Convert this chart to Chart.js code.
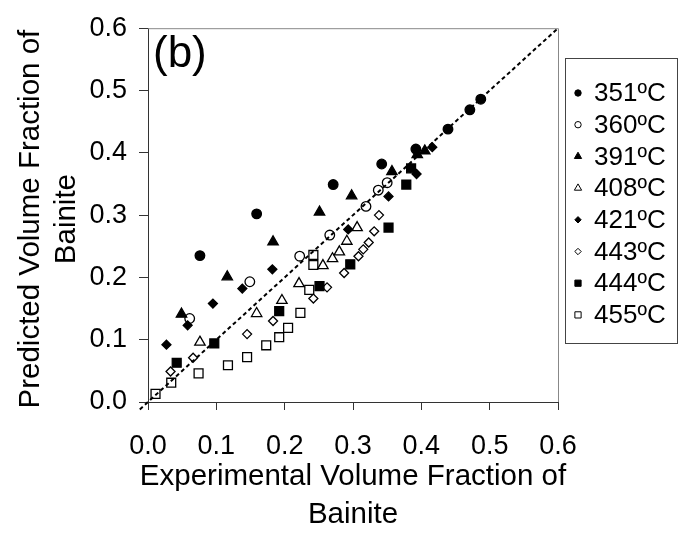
<!DOCTYPE html>
<html>
<head>
<meta charset="utf-8">
<script src="https://cdn.jsdelivr.net/npm/chart.js@4/dist/chart.umd.min.js"></script>
<style>
  html, body { margin: 0; padding: 0; background: #fff; }
  #wrap { width: 690px; height: 534px; }
</style>
</head>
<body>
<div id="wrap"><canvas id="myChart" width="690" height="534"></canvas></div>
<script>
// series: temperature labels
var labels = ['351ºC', '360ºC', '391ºC', '408ºC', '421ºC', '443ºC', '444ºC', '455ºC'];

// experimental (x) and predicted (y) volume fraction per temperature
var x351 = [0.076, 0.159, 0.271, 0.342, 0.392, 0.439, 0.471, 0.487];
var y351 = [0.235, 0.302, 0.349, 0.382, 0.406, 0.438, 0.469, 0.486];

var x360 = [0.061, 0.149, 0.222, 0.266, 0.319, 0.337, 0.350];
var y360 = [0.134, 0.193, 0.234, 0.268, 0.314, 0.340, 0.352];

var x391 = [0.049, 0.116, 0.183, 0.251, 0.298, 0.357, 0.394, 0.405];
var y391 = [0.141, 0.201, 0.257, 0.305, 0.331, 0.370, 0.397, 0.403];

var x408 = [0.076, 0.159, 0.196, 0.221, 0.256, 0.270, 0.280, 0.291, 0.306];
var y408 = [0.096, 0.142, 0.163, 0.190, 0.219, 0.230, 0.241, 0.258, 0.280];

var x421 = [0.027, 0.058, 0.095, 0.138, 0.182, 0.293, 0.352, 0.384, 0.393, 0.416];
var y421 = [0.092, 0.123, 0.158, 0.182, 0.213, 0.277, 0.330, 0.376, 0.366, 0.409];

var x443 = [0.033, 0.066, 0.145, 0.183, 0.242, 0.262, 0.287, 0.308, 0.315, 0.323, 0.331, 0.338];
var y443 = [0.049, 0.071, 0.109, 0.130, 0.166, 0.184, 0.207, 0.234, 0.245, 0.256, 0.274, 0.300];

var x444 = [0.042, 0.097, 0.192, 0.251, 0.296, 0.352, 0.378, 0.385];
var y444 = [0.063, 0.094, 0.146, 0.186, 0.221, 0.280, 0.349, 0.375];

var x455 = [0.011, 0.034, 0.074, 0.117, 0.145, 0.173, 0.192, 0.205, 0.223, 0.236, 0.242, 0.242];
var y455 = [0.013, 0.031, 0.046, 0.059, 0.072, 0.091, 0.104, 0.119, 0.143, 0.180, 0.220, 0.236];

// 1:1 line
var diag = [-0.012, 0.6];

// axis titles
var xTitle = ['Experimental Volume Fraction of', 'Bainite'];
var yTitle = ['Predicted Volume Fraction of', 'Bainite'];

var xs = [x351, x360, x391, x408, x421, x443, x444, x455];
var ys = [y351, y360, y391, y408, y421, y443, y444, y455];
var styles = ['circle', 'circle', 'triangle', 'triangle', 'rectRot', 'rectRot', 'rect', 'rect'];
var filled = [true, false, true, false, true, false, true, false];
var sizes = { circle: 4.8, triangle: 6, rectRot: 4.5, rect: 6.3 };

function pts(a, b) {
    var out = [];
    for (var i = 0; i < a.length; i++) out.push({ x: a[i], y: b[i] });
    return out;
}

var datasets = [];
for (var i = 0; i < labels.length; i++) {
    datasets.push({
        type: 'scatter',
        label: labels[i],
        data: pts(xs[i], ys[i]),
        pointStyle: styles[i],
        pointRadius: sizes[styles[i]],
        pointBackgroundColor: filled[i] ? '#000' : 'rgba(0,0,0,0)',
        pointBorderColor: '#000',
        pointBorderWidth: 1.3,
        order: 0
    });
}
datasets.push({
    type: 'line',
    label: '',
    data: pts(diag, diag),
    borderColor: '#000',
    borderWidth: 2,
    borderDash: [4, 3],
    pointRadius: 0,
    fill: false,
    clip: false,
    order: 1
});

// small marker painter for the legend
function drawMarker(ctx, style, r, x, y, fill) {
    ctx.beginPath();
    if (style === 'circle') {
        ctx.arc(x, y, r, 0, Math.PI * 2);
    } else if (style === 'triangle') {
        ctx.moveTo(x, y - r);
        ctx.lineTo(x + r * 0.866, y + r * 0.5);
        ctx.lineTo(x - r * 0.866, y + r * 0.5);
    } else if (style === 'rectRot') {
        ctx.moveTo(x - r, y); ctx.lineTo(x, y - r); ctx.lineTo(x + r, y); ctx.lineTo(x, y + r);
    } else {
        var s = r * Math.SQRT1_2;
        ctx.rect(x - s, y - s, 2 * s, 2 * s);
    }
    ctx.closePath();
    if (fill) { ctx.fillStyle = '#000'; ctx.fill(); }
    ctx.lineWidth = 1;
    ctx.strokeStyle = '#000';
    ctx.stroke();
}

var FONT = '"Liberation Sans", Arial, sans-serif';

var framePlugin = {
    id: 'frame',
    afterDraw: function (chart) {
        var ctx = chart.ctx, a = chart.chartArea;
        ctx.save();
        // top & right border
        ctx.strokeStyle = '#888';
        ctx.lineWidth = 1;
        ctx.beginPath();
        ctx.moveTo(a.left, a.top + 0.5);
        ctx.lineTo(a.right + 0.5, a.top + 0.5);
        ctx.lineTo(a.right + 0.5, a.bottom);
        ctx.stroke();

        ctx.fillStyle = '#000';
        ctx.textBaseline = 'middle';

        // axis titles
        ctx.font = '29.5px ' + FONT;
        ctx.textAlign = 'center';
        var cx = (a.left + a.right) / 2;
        ctx.fillText(xTitle[0], cx, 477);
        ctx.fillText(xTitle[1], cx, 515);
        ctx.save();
        ctx.translate(0, (a.top + a.bottom) / 2 + 4);
        ctx.rotate(-Math.PI / 2);
        ctx.fillText(yTitle[0], 0, 31);
        ctx.fillText(yTitle[1], 0, 67);
        ctx.restore();

        // panel label
        ctx.textAlign = 'left';
        ctx.font = '44px ' + FONT;
        ctx.fillText('(b)', a.left + 5, a.top + 27);

        // legend
        var bx = 565, by = 58, bw = 112, bh = 285;
        ctx.strokeStyle = '#444';
        ctx.strokeRect(bx + 0.5, by + 0.5, bw, bh);
        ctx.font = '26px ' + FONT;
        for (var i = 0; i < labels.length; i++) {
            var yy = by + 35 + i * 31.7;
            var st = styles[i];
            var rr = st === 'rect' ? 4.4 : (st === 'triangle' ? 4.2 : 3.2);
            drawMarker(ctx, st, rr, bx + 13, yy, filled[i]);
            ctx.fillStyle = '#000';
            ctx.fillText(labels[i], bx + 29, yy + 1);
        }
        ctx.restore();
    }
};

var tickFont = { family: FONT, size: 27 };

var ctx = document.getElementById('myChart').getContext('2d');
var chart = new Chart(ctx, {
    data: { datasets: datasets },
    options: {
        responsive: false,
        animation: false,
        layout: { padding: { top: 20, right: 132, left: 0, bottom: 0 } },
        plugins: {
            legend: { display: false },
            tooltip: { enabled: false }
        },
        scales: {
            x: {
                type: 'linear',
                min: 0,
                max: 0.6,
                ticks: {
                    stepSize: 0.1,
                    color: '#000',
                    font: tickFont,
                    padding: 20,
                    callback: function (v) { return v.toFixed(1); }
                },
                grid: { drawOnChartArea: false, drawTicks: true, tickLength: 8, color: '#333' },
                border: { display: true, color: '#333', width: 1 },
                afterFit: function (s) { s.height = 132; }
            },
            y: {
                type: 'linear',
                min: 0,
                max: 0.6,
                ticks: {
                    stepSize: 0.1,
                    color: '#000',
                    font: tickFont,
                    padding: 12,
                    callback: function (v) { return v.toFixed(1); }
                },
                grid: { drawOnChartArea: false, drawTicks: true, tickLength: 9, color: '#333' },
                border: { display: true, color: '#333', width: 1 },
                afterFit: function (s) { s.width = 148; }
            }
        }
    },
    plugins: [framePlugin]
});
</script>
</body>
</html>
